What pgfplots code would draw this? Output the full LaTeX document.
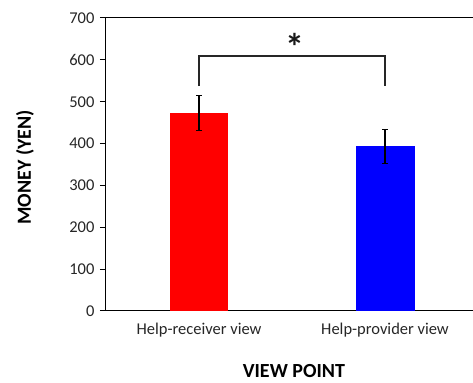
\documentclass[border=0pt]{standalone}
\usepackage{fontspec}
\setmainfont{Carlito}
\usepackage{pgfplots}
\pgfplotsset{compat=1.18}
\begin{document}
\begin{tikzpicture}
\begin{axis}[
  scale only axis,
  width=367pt, height=293pt,
  xmin=-0.5, xmax=1.473,
  ymin=0, ymax=700,
  separate axis lines,
  axis x line*=box,
  axis y line*=left,
  axis line style={line width=1pt, black},
  ytick={0,100,...,700},
  xtick={0,1},
  xticklabels={Help-receiver view, Help-provider view},
  x tick style={draw=none},
  extra x ticks={0.5},
  extra x tick labels={},
  extra x tick style={tick style={draw=black, line width=1pt}},
  tick align=outside,
  major tick length=6pt,
  y tick style={line width=1pt, black},
  xtick pos=bottom, ytick pos=left,
  /pgf/number format/assume math mode=true,
  tick label style={font=\fontsize{16.5}{18}\selectfont, text=black!85},
  yticklabel style={xshift=-2pt},
  xticklabel style={yshift=-3pt},
  xlabel={\textbf{VIEW POINT}},
  ylabel={\textbf{MONEY (YEN)}},
  label style={font=\fontsize{20}{22}\selectfont},
  xlabel style={at={(axis description cs:0.512,-0.205)}, anchor=center},
  ylabel style={at={(axis description cs:-0.221,0.49)}, anchor=center},
  ybar, bar width=0.317, bar shift=0pt,
  enlargelimits=false,
  clip=false,
]
\addplot[fill={rgb,255:red,255;green,0;blue,0}, draw=none,
  error bars/.cd, y dir=both, y explicit,
  error bar style={line width=1.2pt, black},
  error mark options={rotate=90, mark size=3pt, line width=1.2pt, black}]
  coordinates {(0,473) +- (0,41)};
\addplot[fill={rgb,255:red,0;green,0;blue,255}, draw=none,
  error bars/.cd, y dir=both, y explicit,
  error bar style={line width=1.2pt, black},
  error mark options={rotate=90, mark size=3pt, line width=1.2pt, black}]
  coordinates {(1,393) +- (0,41)};
\draw[line width=1.8pt, black!85] (axis cs:0,537) -- (axis cs:0,610) -- (axis cs:1,610) -- (axis cs:1,537);
\node[font=\fontsize{38}{40}\selectfont\bfseries, inner sep=0pt, text=black!90] at (axis cs:0.515,631) {*};
\coordinate (o) at (rel axis cs:0,0);
\coordinate (t) at (rel axis cs:1,1);
\end{axis}
\pgfresetboundingbox
\path ([xshift=-106pt,yshift=-72pt]o) rectangle ([xshift=0pt,yshift=18pt]t);
\end{tikzpicture}
\end{document}
